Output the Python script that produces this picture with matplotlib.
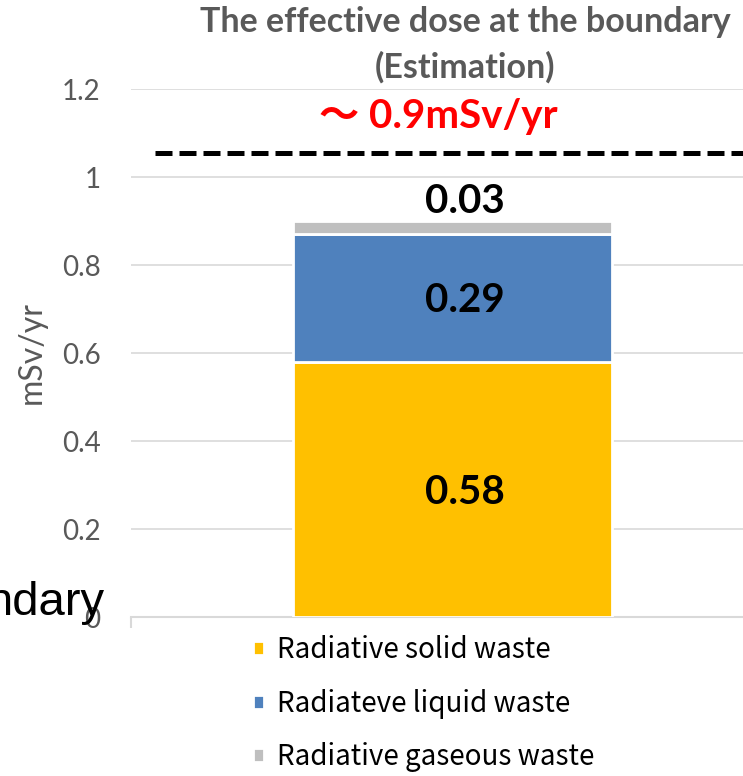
import matplotlib
matplotlib.use("Agg")
import matplotlib.pyplot as plt

# data
categories = ["Boundary"]
series = ["Radiative solid waste", "Radiateve liquid waste", "Radiative gaseous waste"]
values = [0.58, 0.29, 0.03]
colors = ["#FFC000", "#4F81BD", "#BFBFBF"]
yticks = [0, 0.2, 0.4, 0.6, 0.8, 1.0, 1.2]
ytick_labels = ["0", "0.2", "0.4", "0.6", "0.8", "1", "1.2"]
limit_line = 1.055
total_text = "\uff5e 0.9mSv/yr"

gray = "#595959"

fig = plt.figure(figsize=(7.43, 7.76), dpi=100)
ax = fig.add_axes([131 / 743, 159 / 776, 612 / 743, 528 / 776])

bottom = 0
bars = []
for name, v, c in zip(series, values, colors):
    b = ax.bar(0, v, width=1.0, bottom=bottom, color=c, edgecolor="white",
               linewidth=2, label=name, zorder=3)
    bars.append(b)
    bottom += v

# data labels (slightly right of bar centre, as in the original)
bottom = 0
for i, v in enumerate(values):
    if i < len(values) - 1:
        ax.annotate(f"{v:.2f}", (0, bottom + v / 2), xytext=(9, -2), textcoords="offset points",
                    ha="center", va="center", fontsize=29, fontweight="bold",
                    family="Lato", color="black", zorder=4)
    else:
        ax.annotate(f"{v:.2f}", (0, bottom + v), xytext=(9, 1), textcoords="offset points",
                    ha="center", va="bottom", fontsize=29, fontweight="bold",
                    family="Lato", color="black")
    bottom += v

ax.axhline(limit_line, xmin=24 / 612, xmax=1, color="black", lw=3.6,
           dashes=(3.4, 1.4), zorder=4)
ax.text(-0.045, 1.111, total_text, ha="center", va="baseline", fontsize=29,
        fontweight="bold", color="red", family=["Lato", "Noto Sans CJK JP"])

ax.set_xlim(-1.008, 0.911)
ax.set_ylim(0, 1.2)
ax.set_yticks(yticks)
ax.set_yticklabels(ytick_labels, fontsize=20, color=gray, family="Lato")
ax.tick_params(axis="y", length=0, pad=22)
ax.set_xticks([-1.008])
ax.set_xticklabels([""])
ax.tick_params(axis="x", length=8, color="#D9D9D9", width=1.5, direction="out")
ax.grid(axis="y", color="#D9D9D9", lw=1.2, zorder=0)
for s in ["left", "right", "top"]:
    ax.spines[s].set_visible(False)
ax.spines["bottom"].set_color("#D9D9D9")
ax.spines["bottom"].set_linewidth(1.5)

fig.text(32 / 743, 1 - 353 / 776, "mSv/yr", rotation=90, ha="center", va="center",
         fontsize=23, color=gray, family="Lato")

fig.text(465 / 743, 1 - 6 / 776, "The effective dose at the boundary\n(Estimation)",
         ha="center", va="top", fontsize=24.5, fontweight="bold", color=gray,
         family="Lato", linespacing=1.5)

fig.text(105 / 743, 161 / 776, "ndary", ha="right", va="baseline", fontsize=34,
         color="black", family="Liberation Sans")

ax.legend(handles=bars, loc="upper left", bbox_to_anchor=(253 / 743, 1 - 635 / 776),
          bbox_transform=fig.transFigure, frameon=False,
          prop={"family": "Noto Sans CJK JP", "size": 20},
          handlelength=0.4, handleheight=0.4, handletextpad=0.45,
          labelspacing=0.85, borderpad=0, borderaxespad=0)

fig.savefig("out.png", dpi=100)
